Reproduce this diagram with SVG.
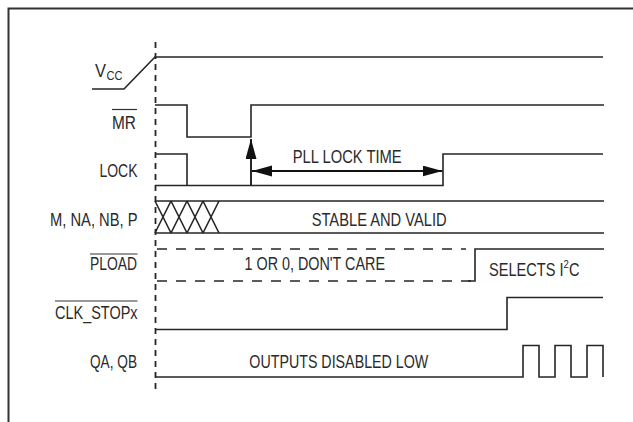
<svg xmlns="http://www.w3.org/2000/svg" width="633" height="422" viewBox="0 0 633 422">
<style>
.w{fill:none;stroke:#262626;stroke-width:1.6;stroke-linejoin:miter}
.d{fill:none;stroke:#262626;stroke-width:1.6;stroke-dasharray:10 9}
.ax{fill:none;stroke:#262626;stroke-width:1.8;stroke-dasharray:6 5}
.ol{stroke:#333;stroke-width:1.2}
text{font-family:"Liberation Sans",Arial,sans-serif;font-size:17.5px;fill:#2a2a2a}
.s{font-size:13px}
.t{font-size:11.5px}
</style>
<defs>
<marker id="ah" markerUnits="userSpaceOnUse" markerWidth="21" markerHeight="12" refX="20" refY="5.5" orient="auto-start-reverse">
<path d="M0,0 L20,5.5 L0,11 Z" fill="#111"/>
</marker>
</defs>
<rect width="633" height="422" fill="#fff"/>
<path d="M8.5,430 V8.5 H640" fill="none" stroke="#333" stroke-width="2"/>
<line class="ax" x1="155.5" y1="42" x2="155.5" y2="393"/>

<g id="vcc">
<text x="95" y="77" textLength="11" lengthAdjust="spacingAndGlyphs">V</text>
<text class="s" x="106.5" y="80" textLength="16" lengthAdjust="spacingAndGlyphs">CC</text>
<path class="w" d="M92,89 H124 L155,57 H603"/>
</g>

<g id="mr">
<text x="112" y="128.5" textLength="24" lengthAdjust="spacingAndGlyphs">MR</text>
<line class="ol" x1="112" y1="109.5" x2="137" y2="109.5"/>
<path class="w" d="M155,105 H187 V137 H251 V105 H604"/>
</g>

<g id="lock">
<text x="99.5" y="176.5" textLength="38" lengthAdjust="spacingAndGlyphs">LOCK</text>
<path class="w" d="M155,154 H187 V185.5"/>
<path class="w" d="M155,185.5 H443 V154 H603"/>
</g>

<g id="bus">
<text x="50" y="225.5" textLength="87.5" lengthAdjust="spacingAndGlyphs">M, NA, NB, P</text>
<path class="w" d="M155,201 H604 M155,233 H604"/>
<path class="w" d="M155,201 L171,233 M171,201 L155,233 M171,201 L187,233 M187,201 L171,233 M187,201 L203,233 M203,201 L187,233 M203,201 L219,233 M219,201 L203,233"/>
<text x="311.7" y="225.5" textLength="135" lengthAdjust="spacingAndGlyphs">STABLE AND VALID</text>
</g>

<g id="pload">
<text x="90" y="270" textLength="47" lengthAdjust="spacingAndGlyphs">PLOAD</text>
<line class="ol" x1="90" y1="254" x2="137.5" y2="254"/>
<path class="d" d="M157,249 H466"/>
<path class="d" d="M157,281 H475"/>
<path class="w" d="M468,281 H475 V249 H604"/>
<text x="244.5" y="270" textLength="140.5" lengthAdjust="spacingAndGlyphs">1 OR 0, DON'T CARE</text>
<text x="489" y="275.5" textLength="90.5" lengthAdjust="spacingAndGlyphs">SELECTS I<tspan class="t" dy="-7.5">2</tspan><tspan dy="7.5">C</tspan></text>
</g>

<g id="clkstop">
<text x="55" y="319.3" textLength="82.5" lengthAdjust="spacingAndGlyphs">CLK_STOPx</text>
<line class="ol" x1="55" y1="301" x2="137.5" y2="301"/>
<path class="w" d="M155,329.5 H507 V297.5 H603"/>
</g>

<g id="qaqb">
<text x="90" y="367.7" textLength="47" lengthAdjust="spacingAndGlyphs">QA, QB</text>
<path class="w" d="M155,377 H523 V345.5 H539 V377 H555 V345.5 H571 V377 H587 V345.5 H603 V377"/>
<text x="249.3" y="368" textLength="179" lengthAdjust="spacingAndGlyphs">OUTPUTS DISABLED LOW</text>
</g>

<g id="connectors">
<line x1="251" y1="185" x2="251" y2="139" stroke="#111" stroke-width="1.8" marker-end="url(#ah)"/>
<line x1="252" y1="171" x2="442.5" y2="171" stroke="#111" stroke-width="1.8" marker-start="url(#ah)" marker-end="url(#ah)"/>
<text x="292.7" y="162.5" textLength="109" lengthAdjust="spacingAndGlyphs">PLL LOCK TIME</text>
</g>
</svg>
